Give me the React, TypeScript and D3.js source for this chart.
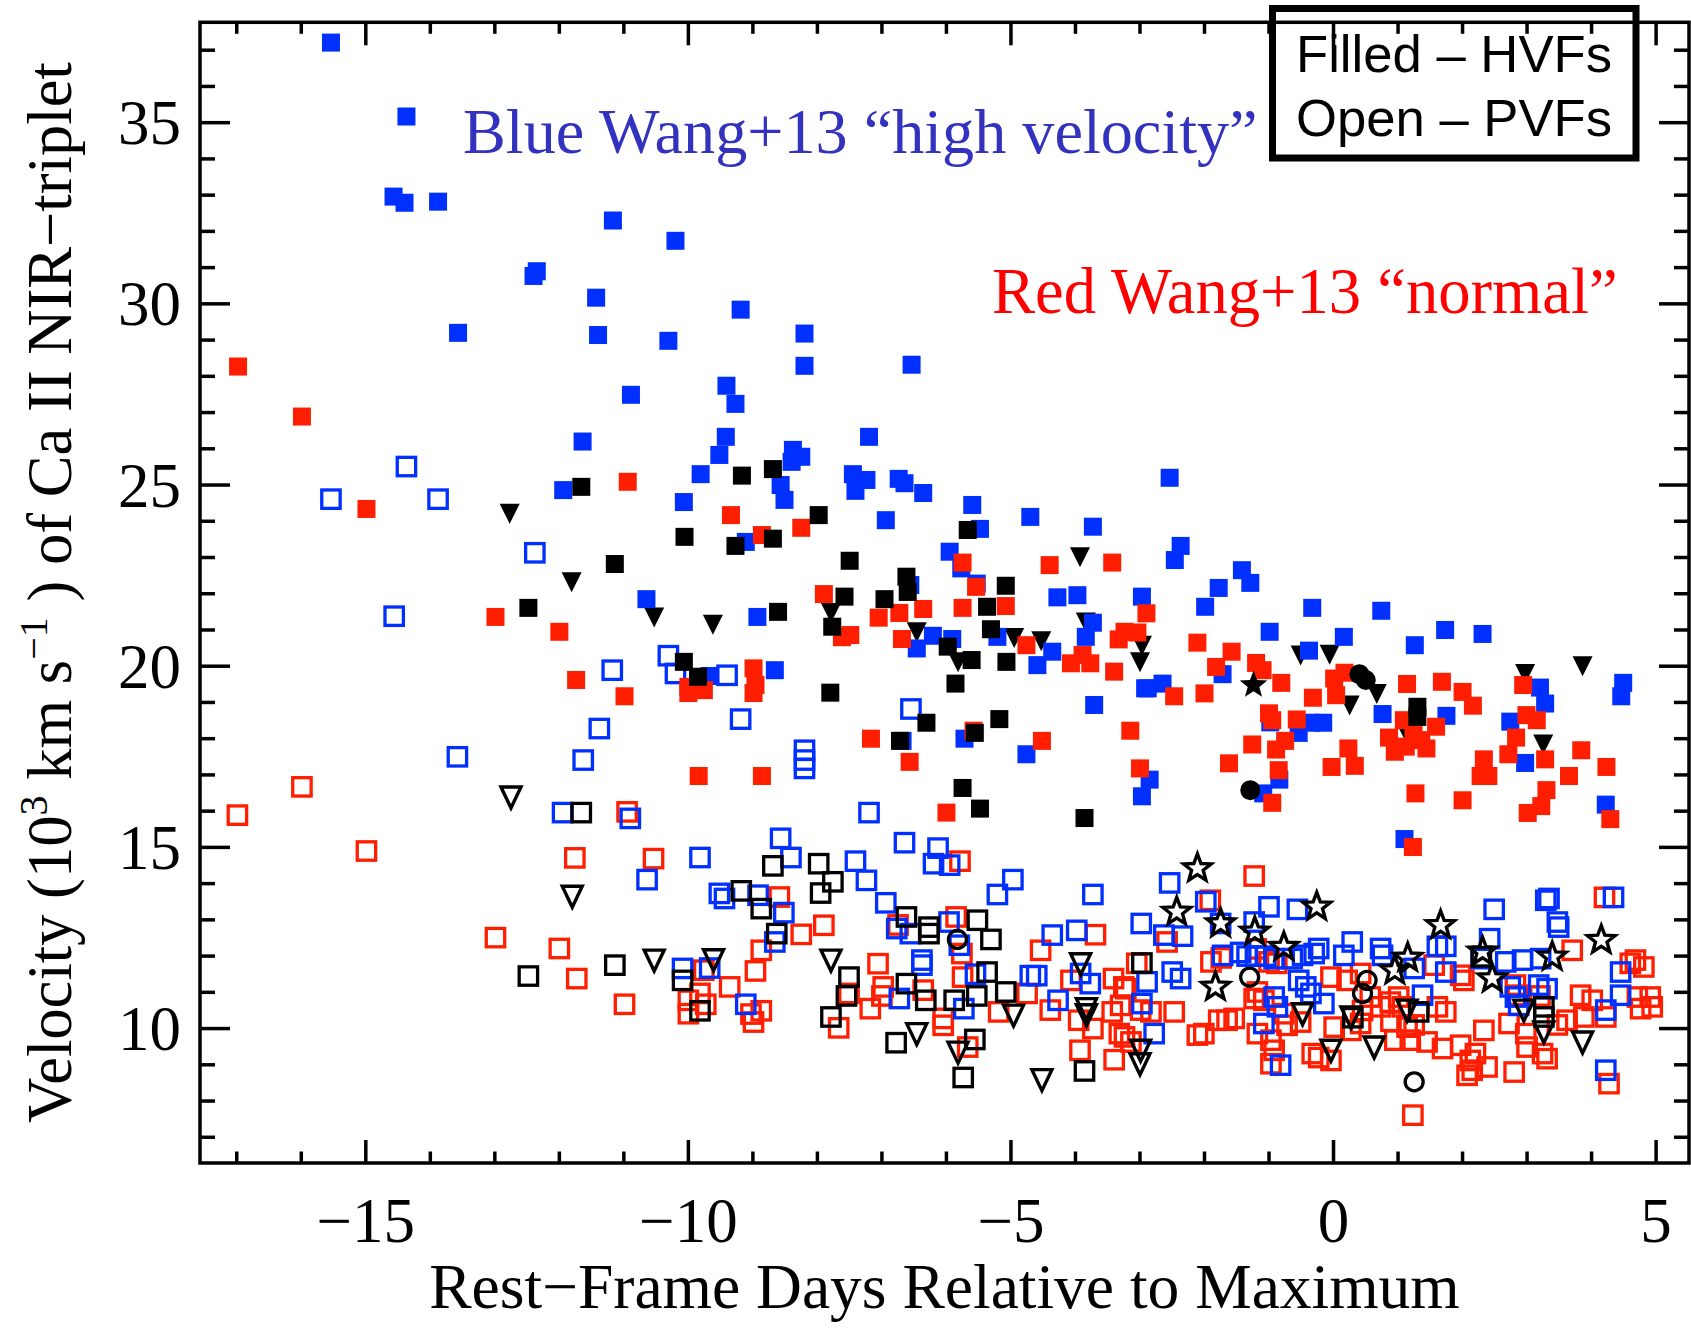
import React from 'react';
import * as d3 from 'd3';

// rest-frame day, velocity (10^3 km/s)
// filled = HVF, open = PVF
const blueHvf: [number, number][] = [
  [-15.54, 37.21], [-14.37, 35.17], [-14.57, 32.96], [-14.40, 32.79], [-13.88, 32.82], [-12.40, 30.77],
  [-12.35, 30.90], [-13.57, 29.20], [-11.43, 30.17], [-11.40, 29.14], [-11.64, 26.20], [-11.17, 32.30],
  [-10.20, 31.74], [-9.19, 29.84], [-10.31, 28.98], [-8.20, 29.18], [-8.20, 28.29], [-6.54, 28.32],
  [-10.89, 27.49], [-9.41, 27.74], [-9.27, 27.24], [-9.42, 26.33], [-7.20, 26.33], [-9.52, 25.83],
  [-8.38, 25.97], [-8.25, 25.78], [-8.40, 25.64], [-9.81, 25.30], [-11.94, 24.86], [-8.57, 25.00],
  [-8.51, 24.59], [-7.45, 25.30], [-7.24, 25.14], [-7.41, 24.84], [-6.74, 25.17], [-6.65, 25.05],
  [-6.36, 24.78], [-10.07, 24.53], [-5.60, 24.45], [-9.11, 23.43], [-6.94, 24.03], [-4.70, 24.12],
  [-3.73, 23.85], [-5.48, 23.79], [-5.95, 23.16], [-5.77, 22.70], [-6.56, 22.24], [-5.53, 22.28],
  [-4.28, 21.90], [-3.97, 21.96], [-2.97, 21.92], [-10.65, 21.85], [-8.93, 21.36], [-6.21, 20.84],
  [-6.46, 20.49], [-5.91, 20.75], [-5.21, 20.81], [-4.36, 20.40], [-4.59, 20.03], [-3.84, 20.81],
  [-3.73, 21.20], [-2.92, 19.39], [-9.67, 19.73], [-8.66, 19.89], [-6.68, 17.94], [-5.72, 18.00],
  [-4.76, 17.57], [-2.97, 16.41], [-2.85, 16.87], [-3.71, 18.93], [-2.54, 25.20], [-2.37, 23.32],
  [-2.46, 22.93], [-1.42, 22.65], [-1.29, 22.30], [-1.78, 22.16], [-1.99, 21.64], [-0.33, 21.61],
  [0.74, 21.53], [-0.99, 20.95], [0.16, 20.81], [1.73, 21.00], [2.31, 20.89], [1.26, 20.58],
  [-0.38, 20.43], [-1.72, 19.78], [-2.88, 19.39], [-2.65, 19.52], [3.20, 19.41], [3.28, 18.97],
  [4.49, 19.54], [4.46, 19.17], [0.76, 18.68], [1.75, 18.63], [-0.98, 18.45], [-0.34, 18.44],
  [-0.16, 18.44], [-0.54, 18.16], [2.74, 18.47], [2.97, 17.33], [-1.09, 16.49], [-0.84, 16.87],
  [1.10, 15.23], [4.22, 16.18],
];

const redHvf: [number, number][] = [
  [-16.98, 28.27], [-15.99, 26.89], [-14.99, 24.34], [-10.94, 25.09], [-9.34, 24.17], [-8.86, 23.62],
  [-8.25, 23.82], [-5.75, 22.86], [-4.40, 22.79], [-3.43, 22.86], [-12.99, 21.36], [-12.00, 20.95],
  [-7.90, 21.99], [-6.36, 21.58], [-6.73, 21.47], [-7.05, 21.34], [-5.75, 21.61], [-5.08, 21.66],
  [-5.54, 22.19], [-7.49, 20.86], [-7.62, 20.80], [-6.69, 20.75], [-4.76, 20.58], [-3.89, 20.31],
  [-4.07, 20.08], [-3.77, 20.08], [-3.24, 20.95], [-3.04, 20.93], [-3.33, 20.74], [-2.90, 21.46],
  [-3.40, 19.85], [-11.74, 19.62], [-10.99, 19.17], [-10.00, 19.43], [-10.00, 19.26], [-9.76, 19.34],
  [-8.99, 19.94], [-8.96, 19.48], [-8.99, 19.26], [-9.84, 16.97], [-8.86, 16.97], [-7.17, 18.00],
  [-6.57, 17.36], [-5.58, 18.22], [-4.52, 17.94], [-3.15, 18.22], [-3.00, 17.18], [-6.00, 15.96],
  [-2.11, 20.65], [-1.58, 20.40], [-1.82, 19.98], [-1.20, 20.09], [-1.10, 19.89], [-0.81, 19.54],
  [0.17, 19.82], [0.01, 19.66], [0.04, 19.20], [-0.32, 19.13], [1.14, 19.51], [1.68, 19.57],
  [2.00, 19.29], [2.16, 18.91], [2.94, 19.48], [1.09, 18.51], [-1.00, 18.70], [-0.95, 18.51],
  [-0.57, 18.53], [-0.75, 17.94], [-0.89, 17.70], [-1.26, 17.84], [-2.47, 19.17], [-2.00, 19.25],
  [-1.62, 17.32], [-0.95, 16.23], [-0.85, 17.13], [-0.03, 17.22], [0.33, 17.25], [0.23, 17.73],
  [0.86, 18.03], [1.12, 17.78], [1.36, 17.96], [0.95, 17.64], [1.59, 18.33], [1.44, 17.73],
  [1.24, 18.24], [1.27, 16.49], [1.23, 15.01], [2.00, 16.30], [2.33, 17.43], [2.28, 16.97],
  [2.40, 16.97], [2.71, 17.57], [2.83, 18.03], [2.99, 18.65], [3.15, 18.51], [3.28, 17.43],
  [3.84, 17.68], [3.65, 16.97], [4.23, 17.22], [3.30, 16.58], [3.22, 16.14], [3.01, 15.95],
  [4.29, 15.78],
];

const blackHvfSquare: [number, number][] = [
  [-9.17, 25.26], [-8.69, 25.44], [-11.66, 24.95], [-8.69, 23.52], [-9.27, 23.32], [-7.98, 24.17],
  [-10.06, 23.57], [-5.67, 23.76], [-11.14, 22.82], [-7.50, 22.91], [-6.62, 22.47], [-6.60, 22.05],
  [-5.08, 22.22], [-7.58, 21.92], [-6.96, 21.85], [-5.37, 21.64], [-12.48, 21.61], [-8.61, 21.50],
  [-7.77, 21.09], [-5.98, 20.54], [-5.31, 21.02], [-10.07, 20.12], [-9.85, 19.71], [-7.80, 19.27],
  [-6.72, 17.94], [-6.31, 18.44], [-5.56, 18.16], [-5.18, 18.54], [-5.75, 16.64], [-5.48, 16.07],
  [-3.86, 15.81], [1.30, 18.88], [1.30, 18.60], [-5.61, 20.17], [-5.07, 20.12], [-5.86, 19.52],
];

const blackHvfTriangle: [number, number][] = [
  [-12.77, 24.22], [-11.81, 22.33], [-10.53, 21.36], [-9.62, 21.16], [-3.93, 23.02], [-7.79, 21.48],
  [-6.46, 20.95], [-4.95, 20.79], [-4.53, 20.70], [-3.84, 21.22], [-2.97, 20.58], [-3.00, 20.12],
  [-5.82, 20.12], [-0.51, 20.31], [-0.06, 20.33], [2.97, 19.80], [3.86, 20.01], [0.67, 19.25],
  [0.25, 18.93], [1.12, 18.20], [3.25, 17.85],
];

const blackHvfCircle: [number, number][] = [[0.40, 19.78], [0.50, 19.62], [-1.29, 16.58]];

const blackHvfStar: [number, number][] = [[-1.24, 19.48]];

const bluePvf: [number, number][] = [
  [-14.37, 25.51], [-15.54, 24.61], [-13.88, 24.61], [-12.38, 23.13], [-14.56, 21.38], [-11.38, 18.28],
  [-13.58, 17.50], [-11.63, 17.41], [-11.95, 15.96], [-11.18, 19.89], [-10.31, 20.29], [-10.20, 19.80],
  [-9.40, 19.75], [-9.19, 18.54], [-8.20, 17.68], [-8.20, 17.41], [-8.20, 17.18], [-6.55, 18.82],
  [-7.20, 15.96], [-10.90, 15.80], [-8.57, 15.25], [-6.65, 15.13], [-6.13, 14.98], [-9.82, 14.72],
  [-10.64, 14.11], [-8.41, 14.72], [-7.41, 14.62], [-7.24, 14.09], [-6.20, 14.55], [-5.95, 14.51],
  [-4.97, 14.11], [-5.21, 13.70], [-3.73, 13.70], [-2.98, 12.90], [-9.52, 13.73], [-9.44, 13.59],
  [-8.92, 13.68], [-8.52, 13.20], [-6.94, 13.47], [-8.66, 12.39], [-6.77, 12.76], [-6.56, 12.62],
  [-5.96, 12.94], [-5.80, 12.30], [-4.36, 12.58], [-3.98, 12.71], [-10.09, 11.66], [-9.67, 11.67],
  [-6.38, 11.89], [-6.38, 11.75], [-5.55, 11.50], [-4.70, 11.46], [-4.60, 11.46], [-3.92, 11.52],
  [-3.77, 11.24], [-6.73, 10.83], [-5.73, 10.55], [-4.27, 10.78], [-9.11, 10.67], [-2.97, 10.69],
  [-2.54, 14.02], [-1.98, 13.50], [-1.00, 13.36], [-0.56, 13.29], [-1.75, 12.90], [-1.23, 12.94],
  [-2.63, 12.58], [-2.34, 12.55], [-1.72, 12.02], [-1.44, 12.10], [-1.34, 12.00], [-1.21, 12.00],
  [-1.05, 12.00], [-0.92, 11.93], [-0.64, 11.93], [-0.48, 12.02], [-0.30, 12.07], [-0.23, 12.21],
  [0.16, 12.02], [0.29, 12.39], [0.73, 12.21], [0.76, 12.02], [-2.89, 11.29], [-2.50, 11.56],
  [-2.37, 11.38], [-0.92, 10.87], [-0.87, 10.60], [-0.54, 11.33], [-0.43, 11.15], [-0.35, 10.97],
  [-0.15, 10.69], [-1.08, 10.14], [-0.82, 8.99], [-2.78, 9.86], [2.49, 13.29], [3.29, 13.54],
  [3.34, 13.59], [3.47, 12.94], [3.49, 12.80], [4.34, 13.62], [1.61, 12.27], [1.74, 12.27],
  [2.42, 12.48], [2.29, 11.93], [2.67, 11.84], [2.93, 11.89], [3.21, 11.93], [1.25, 11.66],
  [1.74, 11.56], [1.38, 10.92], [2.74, 11.15], [2.82, 10.87], [2.87, 10.64], [3.18, 11.20],
  [3.31, 11.10], [4.45, 11.56], [4.45, 10.92], [4.22, 10.51], [4.22, 8.85],
];

const redPvf: [number, number][] = [
  [-16.99, 15.89], [-15.99, 16.67], [-14.99, 14.90], [-11.76, 14.71], [-12.99, 12.51], [-12.00, 12.21],
  [-11.73, 11.38], [-10.95, 15.98], [-10.54, 14.69], [-8.59, 13.63], [-7.90, 12.85], [-8.25, 12.60],
  [-8.87, 12.16], [-9.76, 11.61], [-9.36, 11.15], [-8.96, 11.59], [-10.99, 10.67], [-10.00, 10.78],
  [-10.00, 10.41], [-9.82, 10.97], [-9.73, 10.67], [-8.87, 10.49], [-8.99, 10.18], [-9.03, 10.40],
  [-7.51, 10.97], [-7.18, 10.55], [-7.06, 11.79], [-7.00, 10.90], [-7.67, 10.02], [-6.75, 12.86],
  [-5.79, 14.62], [-5.85, 13.08], [-5.76, 12.07], [-4.54, 12.16], [-3.69, 12.59], [-5.75, 11.42],
  [-6.36, 11.06], [-6.98, 11.15], [-6.05, 10.28], [-6.05, 10.09], [-4.75, 10.97], [-4.39, 10.51],
  [-4.07, 11.33], [-3.41, 11.38], [-3.25, 11.15], [-5.19, 10.46], [-3.95, 10.23], [-3.73, 10.00],
  [-3.30, 10.64], [-3.05, 11.80], [-5.67, 9.49], [-3.93, 9.40], [-3.40, 9.14], [-3.24, 9.77],
  [-1.23, 14.21], [-1.91, 13.54], [-2.58, 12.39], [-1.74, 11.95], [-1.20, 12.20], [-1.00, 11.84],
  [-1.90, 11.84], [-3.22, 11.10], [-1.18, 11.01], [-1.08, 10.78], [-1.23, 10.83], [-0.77, 10.41],
  [-0.88, 11.80], [-0.04, 11.42], [0.21, 11.33], [0.42, 11.52], [0.57, 10.87], [0.73, 10.60],
  [0.88, 10.73], [1.01, 10.87], [0.01, 10.04], [0.27, 9.95], [0.42, 10.14], [-0.33, 9.31],
  [-0.04, 9.12], [-1.18, 9.86], [-0.97, 9.68], [-0.92, 9.40], [-0.97, 9.03], [-2.11, 9.82],
  [-2.01, 9.86], [-1.78, 10.23], [-1.65, 10.23], [-1.54, 10.28], [-3.43, 10.46], [-2.83, 10.46],
  [-2.47, 10.46], [-3.14, 9.63], [-3.32, 9.86], [-0.51, 10.18], [-0.72, 10.09], [-0.23, 9.20],
  [1.56, 11.75], [2.02, 11.33], [1.97, 11.47], [1.61, 10.60], [1.74, 10.46], [1.14, 10.04],
  [1.19, 9.68], [1.45, 9.63], [1.69, 9.45], [1.97, 9.54], [2.12, 9.12], [2.20, 9.31],
  [2.38, 8.94], [2.07, 8.71], [2.33, 9.95], [2.72, 10.14], [2.82, 11.20], [2.85, 10.92],
  [2.80, 8.80], [2.98, 9.86], [3.00, 9.49], [3.24, 9.31], [3.31, 9.17], [3.20, 10.90],
  [3.47, 10.10], [3.62, 10.23], [3.83, 10.92], [3.88, 10.32], [4.01, 10.78], [4.22, 10.32],
  [4.68, 11.89], [4.81, 11.70], [4.71, 10.87], [4.91, 10.87], [4.94, 10.60], [4.76, 10.55],
  [4.60, 11.80], [4.27, 8.48], [1.23, 7.61], [3.70, 12.16], [4.20, 13.62], [2.15, 8.85],
  [0.95, 9.68], [0.45, 10.50], [0.89, 10.20], [1.07, 10.60], [1.25, 10.10], [-2.99, 10.51],
];

const blackPvfSquare: [number, number][] = [
  [-11.66, 15.96], [-12.48, 11.45], [-8.69, 14.49], [-7.98, 14.55], [-7.76, 14.05], [-7.95, 13.74],
  [-9.18, 13.80], [-8.87, 13.31], [-8.63, 12.62], [-11.14, 11.75], [-10.09, 11.33], [-9.82, 10.49],
  [-7.51, 11.42], [-7.55, 10.90], [-7.79, 10.32], [-6.62, 13.08], [-6.27, 12.80], [-6.27, 12.62],
  [-5.52, 12.99], [-5.31, 12.46], [-5.37, 11.56], [-6.62, 11.24], [-6.32, 10.78], [-5.88, 10.78],
  [-5.53, 10.90], [-5.08, 11.01], [-2.97, 11.81], [-6.78, 9.61], [-5.56, 9.70], [-5.74, 8.65],
  [-3.86, 8.83], [0.30, 10.30], [1.32, 10.46], [3.26, 10.60], [3.26, 10.32], [2.29, 11.98],
];

const blackPvfTriangle: [number, number][] = [
  [-12.75, 16.39], [-11.80, 13.65], [-10.53, 11.89], [-9.61, 11.90], [-7.79, 11.89], [-3.92, 11.79],
  [-3.83, 10.55], [-3.83, 10.38], [-4.96, 10.37], [-6.46, 9.86], [-5.82, 9.35], [-4.52, 8.59],
  [-3.00, 9.03], [-2.99, 9.40], [-0.48, 10.41], [-0.04, 9.40], [0.63, 9.49], [0.27, 10.32],
  [1.14, 10.51], [2.95, 10.51], [3.26, 9.91], [3.86, 9.63],
];

const blackPvfStar: [number, number][] = [
  [-2.11, 14.42], [-2.43, 13.22], [-0.26, 13.36], [-1.75, 12.90], [-1.22, 12.67], [-0.77, 12.25],
  [-1.83, 11.15], [1.66, 12.85], [2.31, 12.12], [2.46, 11.38], [3.39, 11.98], [4.15, 12.44],
  [0.95, 11.60], [1.15, 11.95],
];

const blackPvfCircle: [number, number][] = [[-5.83, 12.46], [-1.30, 11.42], [0.45, 10.97], [0.52, 11.33], [1.25, 8.53]];

const xMajor = [-15, -10, -5, 0, 5];
const yMajor = [10, 15, 20, 25, 30, 35];

const BLUE = '#0030ff';
const RED = '#ff1e00';
const SERIF = '"Liberation Serif", "Times New Roman", serif';
const SANS = '"Liberation Sans", Arial, sans-serif';

function starPath(R: number) {
  const p = d3.path();
  for (let i = 0; i < 10; i++) {
    const a = -Math.PI / 2 + (i * Math.PI) / 5;
    const r = i % 2 ? R * 0.42 : R;
    if (i === 0) p.moveTo(r * Math.cos(a), r * Math.sin(a));
    else p.lineTo(r * Math.cos(a), r * Math.sin(a));
  }
  p.closePath();
  return p.toString();
}

const TRI_DOWN = 'M-10,-9.5L10,-9.5L0,10.5Z';
const TRI_DOWN_OPEN = 'M-10,-10L10,-10L0,11Z';
const STAR = starPath(14.5);

export default function App() {
  const left = 200, right = 1689, top = 22.3, bottom = 1163;
  const x = d3.scaleLinear().domain([-17.57, 5.51]).range([left, right]);
  const y = d3.scaleLinear().domain([6.29, 37.77]).range([bottom, top]);

  const xMinor = d3.range(-17, 6).filter(v => !xMajor.includes(v));
  const yMinor = d3.range(7, 38).filter(v => !yMajor.includes(v));

  const openSq = (data: [number, number][], color: string, key: string) =>
    data.map((d, i) => (
      <rect key={key + i} x={x(d[0]) - 9.2} y={y(d[1]) - 9.2} width={18.4} height={18.4}
        fill="none" stroke={color} strokeWidth={3.3} />
    ));
  const filledSq = (data: [number, number][], color: string, key: string) =>
    data.map((d, i) => (
      <rect key={key + i} x={x(d[0]) - 9} y={y(d[1]) - 9} width={18} height={18} fill={color} />
    ));
  const shape = (data: [number, number][], d: string, filled: boolean, key: string) =>
    data.map((p, i) => (
      <path key={key + i} d={d} transform={`translate(${x(p[0])},${y(p[1])})`}
        fill={filled ? '#000' : 'none'} stroke="#000" strokeWidth={filled ? 0 : 3.4} strokeLinejoin="miter" />
    ));
  const circles = (data: [number, number][], filled: boolean, key: string) =>
    data.map((p, i) => (
      <circle key={key + i} cx={x(p[0])} cy={y(p[1])} r={filled ? 10 : 9}
        fill={filled ? '#000' : 'none'} stroke="#000" strokeWidth={filled ? 0 : 3.3} />
    ));

  return (
    <svg width={1691} height={1328} style={{ position: 'absolute', left: 0, top: 0, background: '#fff' }}>
      <rect width={1691} height={1328} fill="#fff" />

      {/* photospheric features */}
      {openSq(redPvf, RED, 'rp')}
      {openSq(bluePvf, BLUE, 'bp')}
      {openSq(blackPvfSquare, '#000', 'kp')}
      {shape(blackPvfTriangle, TRI_DOWN_OPEN, false, 'kt')}
      {shape(blackPvfStar, STAR, false, 'ks')}
      {circles(blackPvfCircle, false, 'kc')}

      {/* high velocity features */}
      {shape(blackHvfTriangle, TRI_DOWN, true, 'ht')}
      {filledSq(blueHvf, BLUE, 'bh')}
      {filledSq(redHvf, RED, 'rh')}
      {filledSq(blackHvfSquare, '#000', 'kh')}
      {circles(blackHvfCircle, true, 'hc')}
      {shape(blackHvfStar, STAR, true, 'hs')}

      {/* axes frame */}
      <g stroke="#000" strokeWidth={3.5} fill="none">
        <rect x={left} y={top} width={right - left} height={bottom - top} />
        {xMajor.map(v => (
          <g key={'xm' + v}>
            <line x1={x(v)} x2={x(v)} y1={bottom} y2={bottom - 23} />
            <line x1={x(v)} x2={x(v)} y1={top} y2={top + 23} />
          </g>
        ))}
        {xMinor.map(v => (
          <g key={'xn' + v}>
            <line x1={x(v)} x2={x(v)} y1={bottom} y2={bottom - 11.5} />
            <line x1={x(v)} x2={x(v)} y1={top} y2={top + 11.5} />
          </g>
        ))}
        {yMajor.map(v => (
          <g key={'ym' + v}>
            <line x1={left} x2={left + 30} y1={y(v)} y2={y(v)} />
            <line x1={right} x2={right - 30} y1={y(v)} y2={y(v)} />
          </g>
        ))}
        {yMinor.map(v => (
          <g key={'yn' + v}>
            <line x1={left} x2={left + 15} y1={y(v)} y2={y(v)} />
            <line x1={right} x2={right - 15} y1={y(v)} y2={y(v)} />
          </g>
        ))}
      </g>

      <g fontFamily={SERIF} fontSize={63} fill="#000">
        {xMajor.map(v => (
          <text key={'xl' + v} x={x(v)} y={1242} textAnchor="middle">
            {v < 0 ? '\u2212' + Math.abs(v) : String(v)}
          </text>
        ))}
        {yMajor.map(v => (
          <text key={'yl' + v} x={181} y={y(v) + 21.5} textAnchor="end">{v}</text>
        ))}
        <text x={(left + right) / 2} y={1308} textAnchor="middle" fontSize={63.5}>
          Rest{'\u2212'}Frame Days Relative to Maximum
        </text>
        <text transform={`translate(71,${(top + bottom) / 2}) rotate(-90)`} textAnchor="middle" fontSize={62.6}>
          Velocity (10<tspan dy={-24} fontSize={40}>3</tspan>
          <tspan dy={24}> km s</tspan>
          <tspan dy={-24} fontSize={40}>{'\u2212'}1</tspan>
          <tspan dy={24}> ) of Ca II NIR{'\u2212'}triplet</tspan>
        </text>
      </g>

      <text x={463} y={153} fontFamily={SERIF} fontSize={64.2} fill="#3232be">
        Blue Wang+13 {'\u201C'}high velocity{'\u201D'}
      </text>
      <text x={992} y={313} fontFamily={SERIF} fontSize={64.6} fill="#ff0000">
        Red Wang+13 {'\u201C'}normal{'\u201D'}
      </text>

      <rect x={1272.5} y={8.5} width={363.5} height={149.5} fill="none" stroke="#000" strokeWidth={7} />
      <g fontFamily={SANS} fontSize={52} fill="#000">
        <text x={1296} y={71.5} textLength={316} lengthAdjust="spacingAndGlyphs">Filled {'\u2013'} HVFs</text>
        <text x={1296} y={136} textLength={316} lengthAdjust="spacingAndGlyphs">Open {'\u2013'} PVFs</text>
      </g>
    </svg>
  );
}
